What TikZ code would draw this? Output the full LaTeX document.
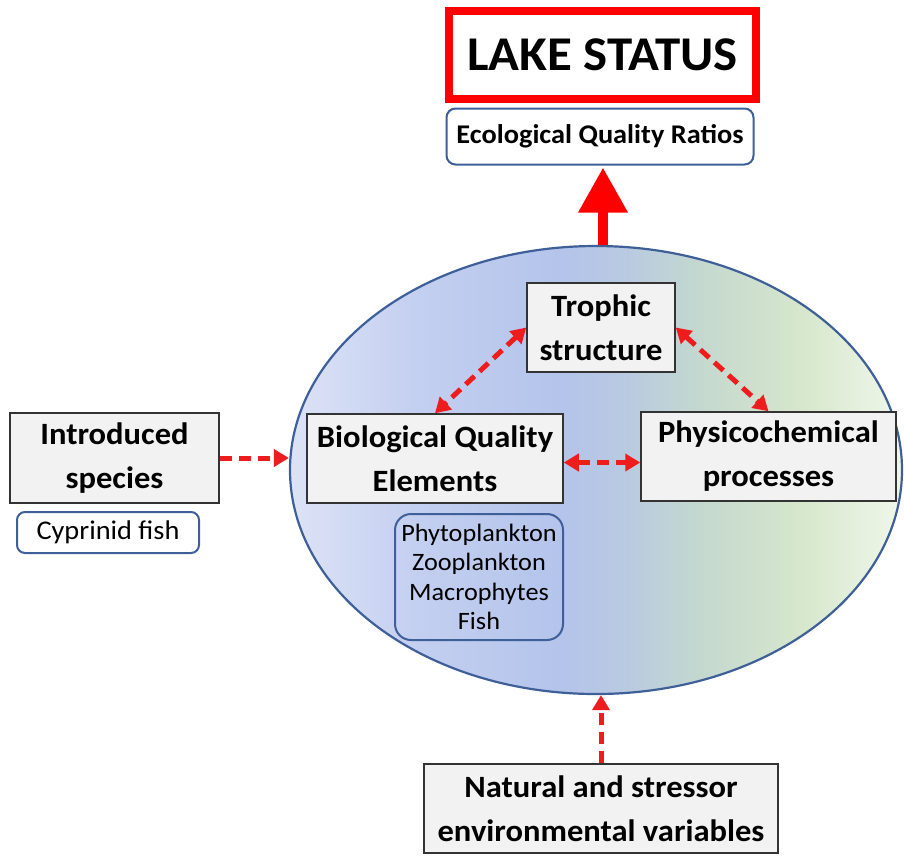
\documentclass[tikz,border=0pt]{standalone}
\usepackage{fontspec}
\setmainfont{Carlito}[FakeStretch=1.05]
\usetikzlibrary{shapes.geometric,arrows.meta}
\definecolor{arrred}{HTML}{EE1C1C}
\definecolor{lakered}{HTML}{FF0000}
\definecolor{edgeblue}{HTML}{3F5F98}
\definecolor{boxgray}{HTML}{F2F2F2}
\definecolor{sA}{HTML}{DDE3F6}
\definecolor{sB}{HTML}{C3CFF0}
\definecolor{sC}{HTML}{B4C4EB}
\definecolor{sD}{HTML}{B8C9E2}
\definecolor{sE}{HTML}{C4D8CF}
\definecolor{sF}{HTML}{D6E7CC}
\definecolor{sG}{HTML}{F0F7EA}
\pgfdeclarehorizontalshading{lakeshade}{100bp}{color(0bp)=(sA); color(25bp)=(sA); color(35.6bp)=(sB); color(47bp)=(sC); color(52bp)=(sD); color(58.5bp)=(sE); color(66.7bp)=(sF); color(75bp)=(sG); color(100bp)=(sG)}
\tikzset{
  graybox/.style={draw=black!80, line width=1.5pt, fill=boxgray, inner sep=0pt, align=center, font=\bfseries\fontsize{31}{44}\selectfont},
  bluebox/.style={draw=edgeblue, line width=2pt, rounded corners=9pt, inner sep=0pt, align=center},
  redarrow/.style={draw=arrred, line width=5pt, dash pattern=on 12pt off 7pt, -{Triangle[length=15pt,width=17pt]}},
  redboth/.style={draw=arrred, line width=5pt, dash pattern=on 12pt off 7pt, {Triangle[length=15pt,width=17pt]}-{Triangle[length=15pt,width=17pt]}}
}
\begin{document}
\begin{tikzpicture}[x=1pt,y=-1pt]
\useasboundingbox (0,0) rectangle (904,855);
% lake body
\node[ellipse, draw=edgeblue, line width=2.2pt, shading=lakeshade, minimum width=612pt, minimum height=448pt, inner sep=0pt] (body) at (596,470) {};
% top
\node[draw=lakered, line width=8pt, fill=white, minimum width=307pt, minimum height=88pt, inner sep=0pt, font=\bfseries\fontsize{48.5}{56}\selectfont] (lake) at (602.5,55) {LAKE STATUS};
\node[bluebox, fill=white, minimum width=307pt, minimum height=56pt, font=\bfseries\fontsize{27}{30}\selectfont] (eqr) at (600,136.5) {Ecological Quality Ratios};
% inner boxes
\node[graybox, minimum width=148pt, minimum height=89pt] (trophic) at (601,327.5) {Trophic\\structure};
\node[graybox, minimum width=256pt, minimum height=89pt] (bqe) at (435,458.5) {Biological Quality\\Elements};
\node[graybox, minimum width=255pt, minimum height=89pt] (phys) at (768.5,456.5) {Physicochemical\\processes};
\node[bluebox, rounded corners=16pt, minimum width=168pt, minimum height=126pt, font=\fontsize{25}{29.5}\selectfont] (list) at (479,577) {Phytoplankton\\Zooplankton\\Macrophytes\\Fish};
% outside boxes
\node[graybox, minimum width=209pt, minimum height=90pt] (intro) at (114.5,458) {Introduced\\species};
\node[bluebox, fill=white, rounded corners=8pt, minimum width=182pt, minimum height=41pt, font=\fontsize{27}{30}\selectfont] (cyp) at (108,532.5) {Cyprinid fish};
\node[graybox, minimum width=354pt, minimum height=89pt] (nat) at (601,808.5) {Natural and stressor\\environmental variables};
% arrows
\draw[draw=lakered, line width=10pt, -{Triangle[length=45pt,width=47pt]}, shorten >=2pt] (body.north -| 603,0) coordinate (bt) -- (bt |- eqr.south);
\draw[redarrow] (intro.east) -- (intro.east -| body.west);
\draw[redarrow] (nat.north) -- (nat.north |- body.south);
\draw[redboth] (trophic.west) -- (bqe.north);
\draw[redboth] (trophic.east) -- (phys.north);
\draw[redboth] ([yshift=-4pt]bqe.east) -- ([yshift=-4pt]bqe.east -| phys.west);
\end{tikzpicture}
\end{document}
